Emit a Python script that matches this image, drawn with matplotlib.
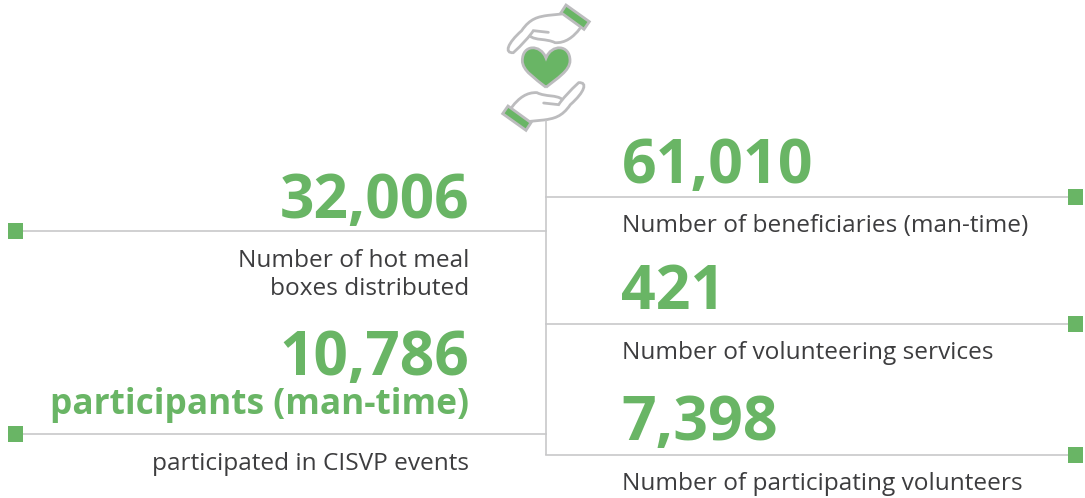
import numpy as np
import matplotlib.pyplot as plt
from matplotlib.path import Path
from matplotlib.patches import PathPatch, Rectangle, Polygon

# Values and captions
left_values = ['32,006', '10,786']
left_captions = ['Number of hot meal\nboxes distributed', 'participated in CISVP events']
left_unit = 'participants (man-time)'
right_values = ['61,010', '421', '7,398']
right_captions = ['Number of beneficiaries (man-time)', 'Number of volunteering services',
                  'Number of participating volunteers']

# Layout in pixels of the reference
W, H = 1085, 498
left_value_y = [218, 375]
left_caption_y = [295, 470]
left_line_y = [231, 434]
right_value_y = [183, 309, 440]
right_caption_y = [232, 359, 490]
right_line_y = [197, 324, 455]
spine_x = 545.5

GREEN = '#69b565'
GRAY = '#c8c8ca'
ICON_GRAY = '#bcbcbe'
DARK = '#3d3d3f'
FONT = 'Open Sans'

fig = plt.figure(figsize=(W / 100, H / 100), dpi=100)
ax = fig.add_axes([0, 0, 1, 1])
ax.set_xlim(0, W)
ax.set_ylim(H, 0)
ax.axis('off')

# Connector lines
ax.plot([spine_x, spine_x], [120, right_line_y[-1]], color=GRAY, lw=1.2, solid_capstyle='butt')
for y in left_line_y:
    ax.plot([16, spine_x], [y, y], color=GRAY, lw=1.2)
    ax.add_patch(Rectangle((8, y - 8), 15, 16, color=GREEN, lw=0, zorder=3))
for y in right_line_y:
    ax.plot([spine_x, 1075], [y, y], color=GRAY, lw=1.2)
    ax.add_patch(Rectangle((1068, y - 8), 15, 16, color=GREEN, lw=0, zorder=3))

# Left block
for val, cap, vy, cy in zip(left_values, left_captions, left_value_y, left_caption_y):
    ax.text(469, vy, val, ha='right', va='baseline', fontsize=43.5, fontweight='bold',
            color=GREEN, family=FONT)
    ax.text(469, cy, cap, ha='right', va='baseline', fontsize=17.6, color=DARK, family=FONT,
            linespacing=1.22)
ax.text(469, 414, left_unit, ha='right', va='baseline', fontsize=25.4, fontweight='bold',
        color=GREEN, family=FONT)

# Right block
for val, cap, vy, cy in zip(right_values, right_captions, right_value_y, right_caption_y):
    ax.text(621.5, vy, val, ha='left', va='baseline', fontsize=43.8, fontweight='bold',
            color=GREEN, family=FONT)
    ax.text(622, cy, cap, ha='left', va='baseline', fontsize=17.6, color=DARK, family=FONT)

# Icon, drawn in zoomed crop coordinates (3x, origin at 480,0)
def to_px(pts, flip=False):
    pts = np.array(pts, dtype=float)
    if flip:
        pts = 2 * np.array([198, 203]) - pts
    return pts / 3 + np.array([480, 0])

cuff = [(258, 15), (328, 65), (312, 88), (243, 38)]
hand = [(245, 42), (205, 46), (175, 50), (150, 55), (125, 92), (82, 130), (72, 160), (100, 158),
        (125, 135), (150, 108), (160, 92), (205, 97)]
palm = [(300, 85), (280, 112), (255, 130), (225, 128), (200, 115), (165, 122), (150, 108)]
M, C, L = Path.MOVETO, Path.CURVE4, Path.LINETO
hand_codes = [M, L, C, C, C, C, C, C, C, C, C, L]
palm_codes = [M, C, C, C, C, C, C]

for flip in [False, True]:
    ax.add_patch(Polygon(to_px(cuff, flip), closed=True, facecolor=GREEN, edgecolor=ICON_GRAY, lw=2))
    ax.add_patch(PathPatch(Path(to_px(hand, flip), hand_codes), fill=False, edgecolor=ICON_GRAY, lw=2,
                           capstyle='round'))
    ax.add_patch(PathPatch(Path(to_px(palm, flip), palm_codes), fill=False, edgecolor=ICON_GRAY, lw=2,
                           capstyle='round'))

heart = [(198, 262), (165, 235), (127, 212), (127, 182), (127, 132), (182, 132), (198, 174),
         (214, 132), (270, 132), (270, 182), (270, 212), (231, 235), (198, 262)]
heart_codes = [M] + [C] * 12
ax.add_patch(PathPatch(Path(to_px(heart), heart_codes), facecolor=GREEN, edgecolor=ICON_GRAY, lw=2))

fig.savefig('out.png', dpi=100)
